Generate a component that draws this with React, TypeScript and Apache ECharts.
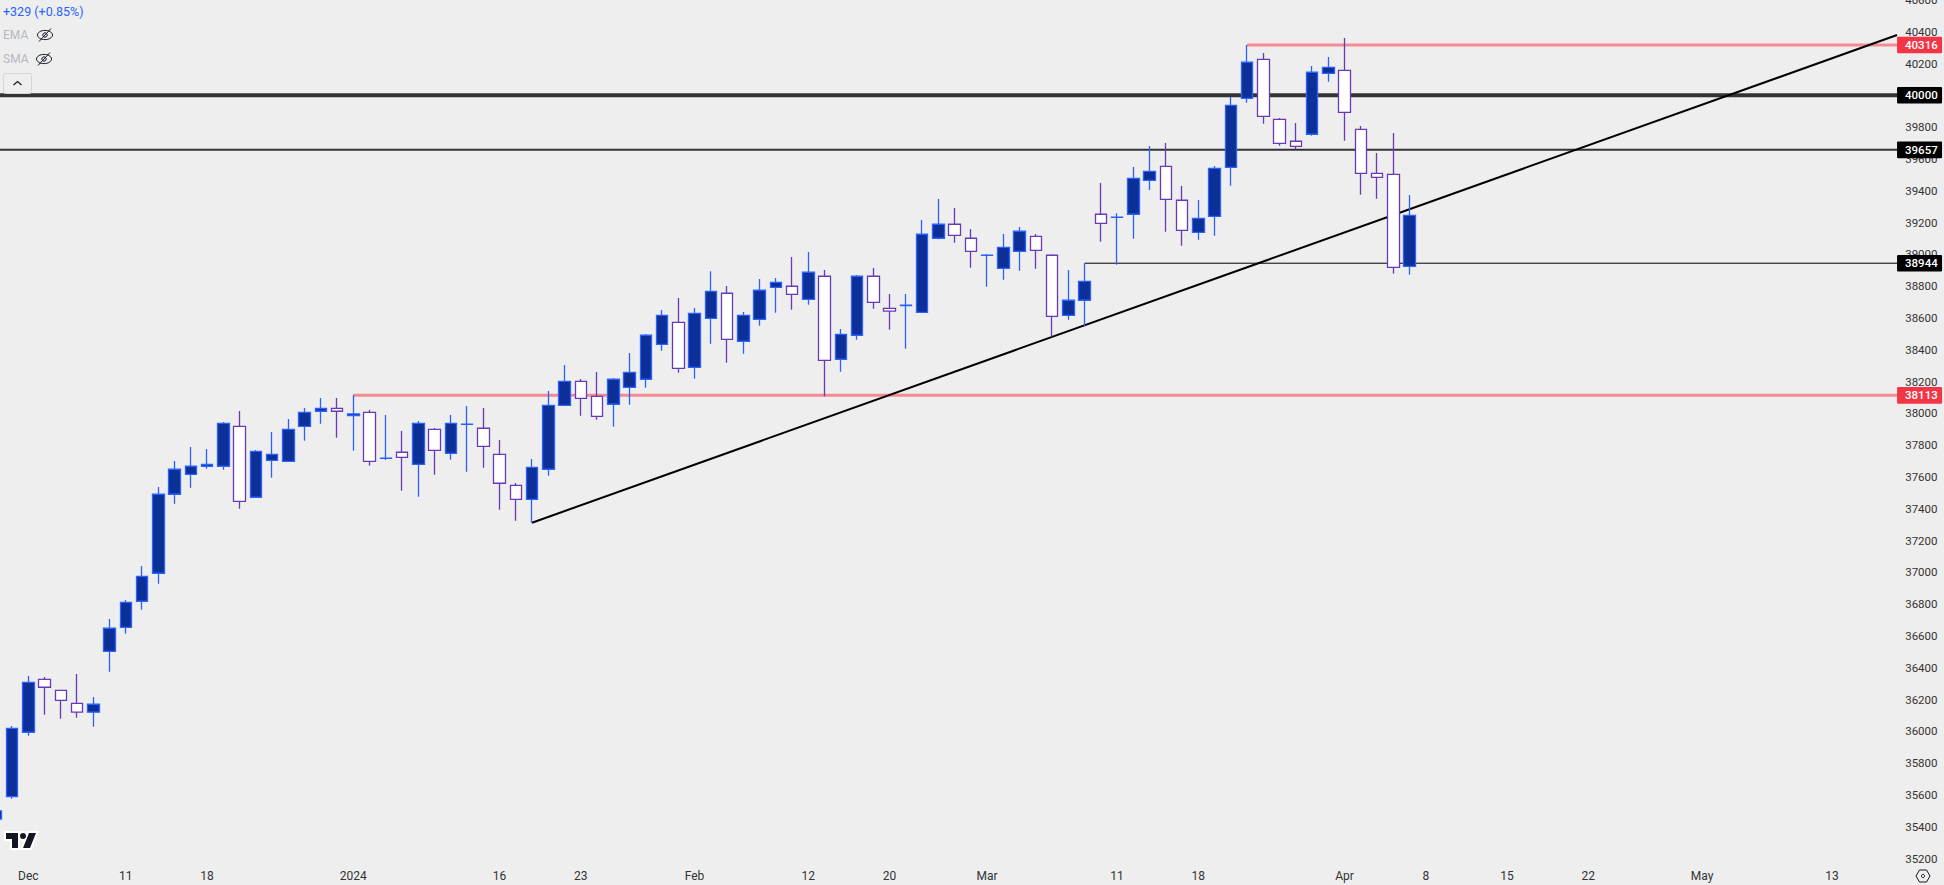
import React, { useEffect, useRef } from "react";
import * as echarts from "echarts";

// One row per trading day: [open, close, low, high]
const candles: number[][] = [
  [35448,35499,35448,35499],[35589,36019,35576,36033],[35994,36308,35972,36348],[36327,36277,36104,36342],
  [36258,36195,36079,36258],[36176,36120,36085,36360],[36120,36170,36029,36216],[36503,36648,36375,36706],
  [36654,36811,36614,36826],[36818,36975,36765,37040],[36994,37491,36928,37536],[37491,37648,37431,37700],
  [37616,37667,37532,37788],[37667,37679,37652,37775],[37667,37937,37645,37945],[37918,37446,37400,38014],
  [37472,37761,37472,37769],[37704,37742,37595,37882],[37698,37899,37698,37964],[37918,38006,37828,38033],
  [38013,38031,37935,38096],[38031,38013,37847,38096],[37985,37996,37765,38115],[38006,37698,37670,38021],
  [37716,37718,37706,37989],[37755,37723,37513,37889],[37679,37937,37475,37952],[37899,37767,37614,37908],
  [37748,37937,37708,37989],[37930,37932,37633,38046],[37906,37792,37658,38033],[37742,37560,37394,37832],
  [37547,37459,37324,37562],[37459,37660,37312,37713],[37648,38050,37608,38140],[38050,38201,38050,38304],
  [38201,38094,37985,38216],[38107,37981,37960,38260],[38057,38214,37916,38222],[38163,38258,38054,38379],
  [38214,38491,38161,38499],[38434,38616,38394,38650],[38572,38283,38255,38725],[38289,38629,38218,38662],
  [38597,38767,38438,38893],[38755,38465,38318,38801],[38453,38616,38375,38637],[38591,38774,38551,38845],
  [38792,38824,38633,38851],[38799,38748,38652,38983],[38717,38887,38683,39014],[38862,38333,38107,38901],
  [38340,38497,38262,38530],[38491,38862,38463,38870],[38862,38698,38658,38914],[38660,38642,38526,38750],
  [38678,38680,38406,38750],[38635,39126,38635,39216],[39101,39189,39094,39348],[39189,39119,39073,39291],
  [39101,39019,38916,39159],[38993,38995,38796,39002],[38912,39044,38840,39128],[39019,39145,38897,39172],
  [39113,39025,38909,39128],[38994,38610,38482,39000],[38616,38711,38589,38901],[38711,38830,38547,38944],
  [39252,39195,39079,39448],[39232,39234,38935,39258],[39252,39478,39098,39549],[39465,39522,39404,39681],
  [39553,39346,39142,39700],[39340,39151,39054,39430],[39138,39226,39092,39341],[39239,39541,39117,39555],
  [39547,39937,39431,39989],[39981,40208,39953,40316],[40226,39868,39821,40266],[39849,39698,39683,39857],
  [39711,39679,39660,39826],[39755,40145,39746,40184],[40138,40176,40086,40241],[40157,39893,39714,40360],
  [39786,39509,39375,39807],[39509,39484,39350,39637],[39503,38918,38878,39763],[38924,39245,38872,39373],
];

// The time axis runs on past the last candle into empty future sessions.
const sessionCount = 118;
const categories = Array.from({ length: sessionCount }, (_, i) => String(i));
const tickSessions = [2, 8, 13, 22, 31, 36, 43, 50, 55, 61, 69, 74, 83, 88, 93, 98, 105, 113];
const tickTexts = ["Dec", "11", "18", "2024", "16", "23", "Feb", "12", "20", "Mar", "11", "18", "Apr", "8", "15", "22", "May", "13"];

const levelPrices = [40316, 40000, 39657, 38944, 38113];
const levelStarts = [77, 0, 0, 67, 22];
const levelColors = ["#f58a92", "#333333", "#333333", "#000000", "#f58a92"];
const levelWidths = [3, 4, 2, 1, 3];
const tagColors = ["#f23645", "#000000", "#000000", "#000000", "#f23645"];
const trendStart = [33, 37312];
const trendEnd = [117, 40379];
const lastSession = 117;

const BG = "#eeeeee";
const FONT = "Roboto, 'Noto Sans', sans-serif";

echarts.graphic.registerShape(
  "tvlogo",
  echarts.graphic.extendPath(
    "M14 6H2v6h6v9h6V6zm12 15h-7l6-15h7l-6 15zm-7-9a3 3 0 1 0 0-6 3 3 0 0 0 0 6z",
    {}
  )
);

function eyeOff(cx: number, cy: number) {
  const stroke = "#131722";
  return [
    { type: "ellipse", shape: { cx, cy, rx: 7.5, ry: 4.6 }, style: { fill: "none", stroke, lineWidth: 1 } },
    { type: "circle", shape: { cx, cy, r: 2.2 }, style: { fill: "none", stroke, lineWidth: 1 } },
    { type: "line", shape: { x1: cx - 6, y1: cy + 6.5, x2: cx + 6, y2: cy - 6.5 }, style: { stroke, lineWidth: 1 } },
  ];
}

export default function App() {
  const ref = useRef<HTMLDivElement>(null);
  useEffect(() => {
    document.body.style.margin = "0";
    document.body.style.background = BG;
    document.documentElement.style.overflow = "hidden";
    const chart = echarts.init(ref.current!, undefined, { renderer: "svg" });
    const levelSeries = levelPrices.map((p, i) => ({
      type: "line",
      name: "level" + p,
      data: [[levelStarts[i], p], [lastSession, p]],
      symbol: "none",
      silent: true,
      z: 1,
      lineStyle: { color: levelColors[i], width: levelWidths[i], cap: "butt" },
    }));
    chart.setOption({
      animation: false,
      backgroundColor: BG,
      grid: { left: -12.325, top: -0.1, width: 1917.5, height: 858.6, containLabel: false, outerBoundsMode: "none" },
      tooltip: { show: false },
      xAxis: {
        type: "category",
        data: categories,
        boundaryGap: true,
        axisLine: { show: false },
        axisTick: { show: false },
        splitLine: { show: false },
        axisLabel: {
          margin: 11,
          color: "#333",
          fontFamily: FONT,
          fontSize: 12,
          hideOverlap: false,
          interval: (i: number) => tickSessions.indexOf(i) >= 0,
          formatter: (_v: string, i: number) => {
            const k = tickSessions.indexOf(i);
            return k >= 0 ? tickTexts[k] : "";
          },
        },
      },
      yAxis: {
        type: "value",
        position: "right",
        min: 35200,
        max: 40600,
        interval: 200,
        scale: true,
        axisLine: { show: false },
        axisTick: { show: false },
        splitLine: { show: false },
        axisLabel: {
          margin: 0,
          color: "#333",
          fontFamily: FONT,
          fontSize: 11.5,
          align: "left",
          formatter: (v: number) => String(v),
        },
      },
      series: [
        ...levelSeries,
        {
          type: "line",
          name: "trend",
          data: [trendStart, trendEnd],
          symbol: "none",
          silent: true,
          z: 1,
          lineStyle: { color: "#000000", width: 2 },
        },
        {
          type: "candlestick",
          name: "price",
          data: candles,
          barWidth: 12,
          silent: true,
          z: 2,
          itemStyle: {
            color: "#0c2f98",
            color0: "#ffffff",
            borderColor: "#2962ff",
            borderColor0: "#673ab7",
            borderWidth: 1.3,
          },
        },
        {
          type: "custom",
          name: "tags",
          z: 4,
          silent: true,
          clip: false,
          data: levelPrices.map((p, i) => [lastSession, p, i]),
          renderItem: (_params: any, api: any) => {
            const c = api.coord([api.value(0), api.value(1)]);
            const p = api.value(1);
            const idx = api.value(2);
            return {
              type: "group",
              children: [
                {
                  type: "rect",
                  shape: { x: c[0], y: c[1] - 8.3, width: 45, height: 16.6, r: 1 },
                  style: { fill: tagColors[idx] },
                },
                {
                  type: "text",
                  x: c[0] + 8,
                  y: c[1],
                  style: {
                    text: String(p),
                    fill: "#ffffff",
                    font: `500 11.5px ${FONT}`,
                    textVerticalAlign: "middle",
                    verticalAlign: "middle",
                    textAlign: "left",
                  },
                },
              ],
            };
          },
        },
      ],
      graphic: [
        { type: "text", x: 3, y: 5, style: { text: "+329 (+0.85%)", fill: "#2962ff", font: `12.5px ${FONT}` } },
        { type: "text", x: 3, y: 29, style: { text: "EMA", fill: "#b6b8c0", font: `12px ${FONT}` } },
        { type: "text", x: 3, y: 53, style: { text: "SMA", fill: "#b6b8c0", font: `12px ${FONT}` } },
        ...eyeOff(45, 35),
        ...eyeOff(44, 59),
        {
          type: "rect",
          z: 5,
          shape: { x: 3.5, y: 73.5, width: 28, height: 20, r: 2 },
          style: { fill: "none", stroke: "#d6d6d6", lineWidth: 1 },
        },
        {
          type: "polyline",
          z: 5,
          shape: { points: [[13.5, 85], [17.5, 81.5], [21.5, 85]] },
          style: { fill: "none", stroke: "#131722", lineWidth: 1.2 },
        },
        {
          type: "tvlogo",
          x: 4,
          y: 827,
          style: { fill: "#ffffff", stroke: "#ffffff", lineWidth: 4 },
        },
        { type: "tvlogo", x: 4, y: 827, style: { fill: "#131722" } },
        {
          type: "polygon",
          shape: { points: [[1916, 876], [1919.5, 870], [1926.5, 870], [1930, 876], [1926.5, 882], [1919.5, 882]] },
          style: { fill: "none", stroke: "#131722", lineWidth: 1 },
        },
        { type: "circle", shape: { cx: 1923, cy: 876, r: 1.6 }, style: { fill: "none", stroke: "#131722", lineWidth: 1 } },
      ],
    });
    return () => chart.dispose();
  }, []);
  return <div ref={ref} style={{ width: 1944, height: 885, background: BG }} />;
}
